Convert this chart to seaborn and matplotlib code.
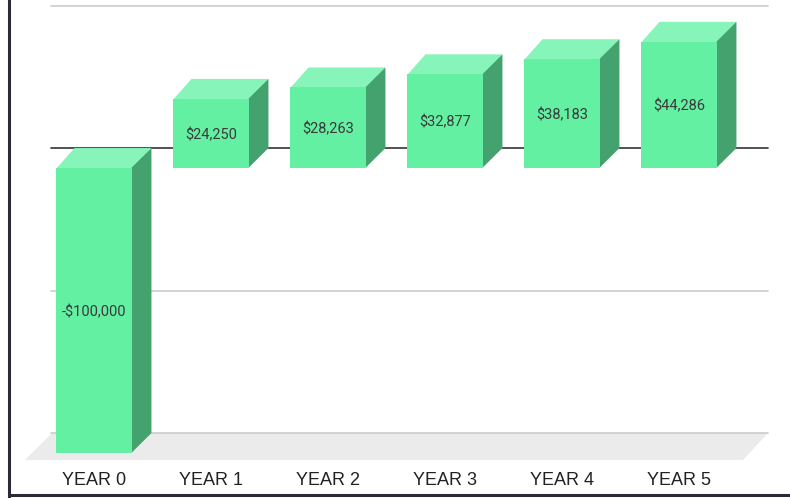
import numpy as np
import pandas as pd
import matplotlib.pyplot as plt
from matplotlib import font_manager
from matplotlib.patches import Polygon
from matplotlib.lines import Line2D
import seaborn as sns

sns.set_style("white")
plt.rcParams['font.family'] = ['Liberation Sans', 'DejaVu Sans']

years = ["YEAR 0", "YEAR 1", "YEAR 2", "YEAR 3", "YEAR 4", "YEAR 5"]
cash_flow = [-100000, 24250, 28263, 32877, 38183, 44286]
bar_labels = ["-$100,000", "$24,250", "$28,263", "$32,877", "$38,183", "$44,286"]
grid_vals = [50000, 0, -50000, -100000]

front_col = "#64f0a2"
top_col = "#87f5b9"
side_col = "#44a26e"

# pick plain Roboto Regular if the file is there (not the condensed one)
label_font = None
for f in font_manager.findSystemFonts():
    name = f.split("/")[-1].lower()
    if name in ("roboto-regular.ttf", "roboto[wdth,wght].ttf", "roboto-regular.otf"):
        label_font = font_manager.FontProperties(fname=f, size=10.5)
        break
if label_font is None:
    label_font = font_manager.FontProperties(family=["Roboto", "DejaVu Sans"], size=10.5)

# 3d depth offset (data units)
dx, dy = 0.162, 7000

W, H = 790, 498
fig = plt.figure(figsize=(W / 100, H / 100), dpi=100)
ax = fig.add_axes([0, (H - 462) / H, 1, 462 / H])

df = pd.DataFrame({"year": years, "cash": cash_flow})
sns.barplot(data=df, x="year", y="cash", color=front_col, saturation=1,
            width=0.658, ax=ax, zorder=3, linewidth=0)

ax.set_xlim(-94 / 117, 696 / 117)
ax.set_ylim(-(462 - 168) / 0.00285, 168 / 0.00285)

# floor
x_bl, x_br = (52 - 94) / 117, (768 - 94) / 117
x_fl, x_fr = (25 - 94) / 117, (743 - 94) / 117
y_back = -100000 + dy
y_front = -(460 - 168) / 0.00285
ax.add_patch(Polygon([(x_bl, y_back), (x_br, y_back), (x_fr, y_front), (x_fl, y_front)],
                     closed=True, facecolor="#ebebeb", edgecolor="none", zorder=1))

# back wall gridlines
for g in grid_vals:
    col = "#333333" if g == 0 else "#cccccc"
    ax.plot([x_bl - 0.01, x_br], [g + dy, g + dy], color=col, lw=1.2, zorder=2)

# top and side faces of the bars (drawn under the front face to avoid seams)
for p, v in zip(ax.patches, cash_flow):
    x0 = p.get_x()
    x1 = x0 + p.get_width()
    top = max(v, 0)
    bot = min(v, 0)
    ax.add_patch(Polygon([(x0, top - 500), (x1, top - 500), (x1 + dx, top + dy), (x0 + dx, top + dy)],
                         closed=True, facecolor=top_col, edgecolor="none", zorder=2.5))
    ax.add_patch(Polygon([(x1 - 0.01, bot), (x1 - 0.01, top), (x1 + dx, top + dy), (x1 + dx, bot + dy)],
                         closed=True, facecolor=side_col, edgecolor="none", zorder=2.5))

for i, (v, lab) in enumerate(zip(cash_flow, bar_labels)):
    ax.text(i, v / 2, lab, ha="center", va="center_baseline", fontproperties=label_font,
            color="#3a3a3a", zorder=5)

ax.set_xlabel("")
ax.set_ylabel("")
ax.set_yticks([])
ax.tick_params(axis="x", length=0, pad=7, labelsize=13, labelcolor="#222222")
for s in ax.spines.values():
    s.set_visible(False)

# outer frame
fig.add_artist(Line2D([9 / W, 9 / W], [0, 1], color="#2b2b38", lw=2.2, transform=fig.transFigure))
fig.add_artist(Line2D([9 / W, 1], [3 / H, 3 / H], color="#2b2b38", lw=2.2, transform=fig.transFigure))

fig.savefig("out.png", dpi=100)
